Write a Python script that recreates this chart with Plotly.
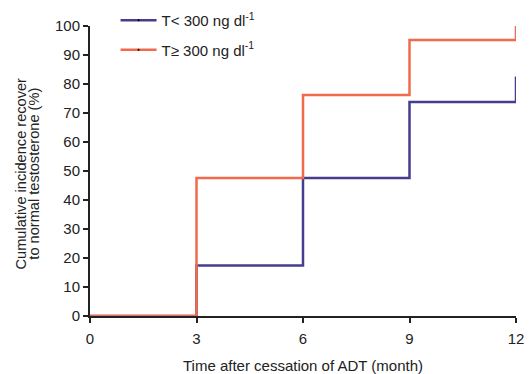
import plotly.graph_objects as go

months = [0, 3, 6, 9, 12]
low_t = [0, 17.4, 47.6, 73.8, 82.6]
high_t = [0, 47.6, 76.2, 95.2, 100]
x_ticks = [0, 3, 6, 9, 12]
y_ticks = [0, 10, 20, 30, 40, 50, 60, 70, 80, 90, 100]
names = ["T< 300 ng dl<sup>-1</sup>", "T≥ 300 ng dl<sup>-1</sup>"]
y_title_lines = ["Cumulative incidence recover", "to normal testosterone (%)"]

BLUE = "#463d8e"
ORANGE = "#f06a4b"
FONT = "Liberation Sans, Arial"

fig = go.Figure()
fig.add_trace(go.Scatter(x=months, y=low_t, mode="lines", line=dict(color=BLUE, width=2.5, shape="hv"),
                         showlegend=False, cliponaxis=False))
fig.add_trace(go.Scatter(x=months, y=high_t, mode="lines", line=dict(color=ORANGE, width=2.5, shape="hv"),
                         showlegend=False, cliponaxis=False))
# legend entries
for nm, col, grp in [(names[0], BLUE, "a"), (names[1], ORANGE, "b")]:
    fig.add_trace(go.Scatter(x=[None], y=[None], mode="lines+markers", name=nm, legendgroup=grp,
                             line=dict(color=col, width=2.5),
                             marker=dict(symbol="circle", size=2, color="black",
                                         line=dict(color="black", width=0))))

axis_common = dict(showline=True, linecolor="#222", linewidth=2, ticks="outside", ticklen=5,
                   tickwidth=2, tickcolor="#222", showgrid=False, zeroline=False, automargin=False,
                   tickfont=dict(family=FONT, size=15, color="#222"))
fig.update_xaxes(range=[0, 12], tickvals=x_ticks, **axis_common, ticklabelstandoff=3,
                 title=dict(text="Time after cessation of ADT (month)", font=dict(family=FONT, size=15, color="#222"), standoff=16))
fig.update_yaxes(range=[0, 100], tickvals=y_ticks, **axis_common)

# two-line y-axis title with tight line spacing
for txt, xp in zip(y_title_lines, [-0.163, -0.132]):
    fig.add_annotation(text=txt, xref="paper", yref="paper", x=xp, y=0.49, xanchor="center",
                       yanchor="middle", textangle=-90, showarrow=False,
                       font=dict(family=FONT, size=14.6, color="#222"))

fig.update_layout(
    width=530, height=374,
    margin=dict(l=90, r=14, t=26, b=58, autoexpand=False),
    paper_bgcolor="white", plot_bgcolor="white",
    legend=dict(x=0.06, y=1.076, xanchor="left", yanchor="top", bgcolor="rgba(0,0,0,0)",
                font=dict(family=FONT, size=15, color="#222"),
                traceorder="grouped", tracegroupgap=7, itemwidth=36),
)
fig.write_html("out.html")
